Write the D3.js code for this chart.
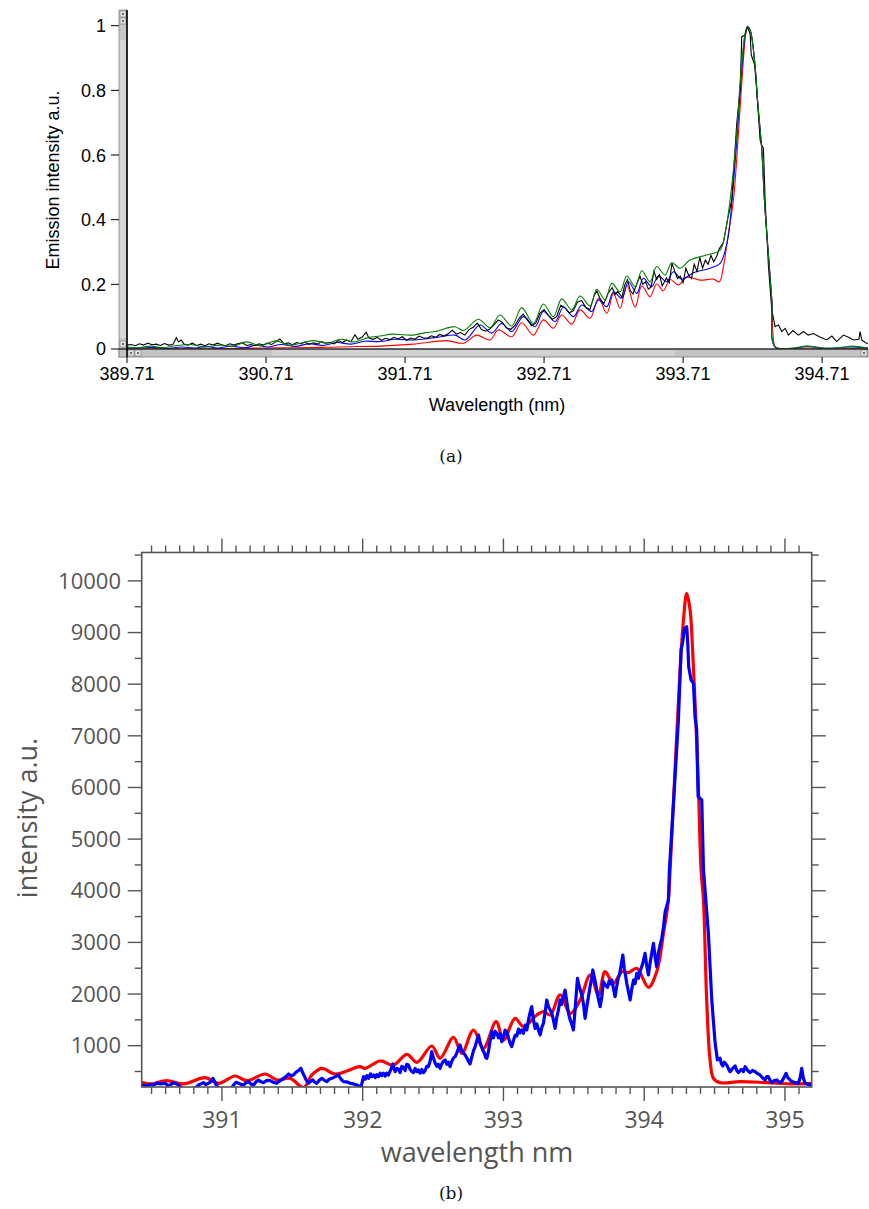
<!DOCTYPE html>
<html><head><meta charset="utf-8">
<script src="https://cdn.jsdelivr.net/npm/d3@7"></script>
<style>html,body{margin:0;padding:0;background:#fff;} svg{display:block;}</style>
</head><body>
<svg id="c" width="869" height="1209"></svg>
<script>
// ---------------- DATA: panel (a) ----------------
const topXTicks = [389.71, 390.71, 391.71, 392.71, 393.71, 394.71];
const topXLabels = ["389.71", "390.71", "391.71", "392.71", "393.71", "394.71"];
const topYTicks = [0, 0.2, 0.4, 0.6, 0.8, 1];
const topYLabels = ["0", "0.2", "0.4", "0.6", "0.8", "1"];

const topRed = [[389.71,0.001],[390.0,0.001],[390.3,0.001],[390.5,0.002],[390.7,0.003],[390.9,0.004],[391.1,0.005],[391.3,0.007],[391.53,0.009],[391.77,0.015],[392.01,0.026],[392.13,0.018],[392.225,0.043],[392.321,0.028],[392.381,0.059],[392.477,0.038],[392.549,0.081],[392.633,0.043],[392.705,0.090],[392.777,0.064],[392.837,0.105],[392.909,0.077],[392.969,0.121],[393.041,0.095],[393.101,0.157],[393.161,0.110],[393.209,0.172],[393.257,0.126],[393.305,0.198],[393.365,0.129],[393.413,0.195],[393.472,0.162],[393.520,0.201],[393.568,0.180],[393.616,0.215],[393.676,0.198],[393.736,0.222],[393.832,0.213],[393.928,0.216],[393.971,0.208],[394.000,0.255],[394.036,0.358],[394.072,0.461],[394.108,0.667],[394.132,0.822],[394.161,0.976],[394.173,0.997],[394.192,0.987],[394.228,0.873],[394.245,0.770],[394.276,0.616],[394.295,0.461],[394.312,0.358],[394.348,0.152],[394.372,0.007],[394.40,0.002],[394.6,0.003],[394.8,0.001],[395.04,0.002]];

const topBlue = [[389.71,0.004],[389.80,0.003],[389.90,0.005],[390.00,0.002],[390.10,0.006],[390.20,0.003],[390.28,0.008],[390.36,0.003],[390.46,0.009],[390.56,0.004],[390.64,0.012],[390.72,0.006],[390.82,0.014],[390.92,0.008],[391.02,0.016],[391.12,0.011],[391.22,0.020],[391.32,0.015],[391.42,0.024],[391.53,0.023],[391.64,0.030],[391.77,0.028],[391.938,0.036],[392.070,0.043],[392.142,0.028],[392.249,0.074],[392.333,0.049],[392.405,0.079],[392.477,0.054],[392.561,0.100],[392.645,0.069],[392.705,0.116],[392.789,0.085],[392.849,0.129],[392.921,0.100],[392.981,0.136],[393.053,0.116],[393.101,0.152],[393.161,0.131],[393.209,0.177],[393.269,0.157],[393.317,0.208],[393.377,0.172],[393.424,0.219],[393.484,0.193],[393.532,0.226],[393.592,0.208],[393.640,0.239],[393.700,0.216],[393.784,0.236],[393.904,0.250],[393.976,0.265],[394.03,0.337],[394.062,0.461],[394.10,0.667],[394.125,0.822],[394.158,0.976],[394.173,0.997],[394.192,0.987],[394.228,0.873],[394.245,0.770],[394.276,0.616],[394.295,0.461],[394.312,0.358],[394.348,0.152],[394.372,0.005],[394.50,0.001],[394.60,0.008],[394.75,0.002],[394.90,0.006],[395.04,0.003]];

const topGreen = [[389.71,0.006],[389.80,0.004],[389.88,0.009],[389.96,0.004],[390.06,0.010],[390.17,0.014],[390.27,0.006],[390.38,0.012],[390.47,0.008],[390.57,0.022],[390.67,0.010],[390.78,0.025],[390.88,0.012],[390.98,0.020],[391.05,0.026],[391.15,0.018],[391.25,0.030],[391.34,0.022],[391.45,0.036],[391.53,0.040],[391.62,0.046],[391.70,0.044],[391.77,0.043],[391.85,0.050],[391.926,0.054],[392.070,0.069],[392.130,0.057],[392.237,0.092],[392.321,0.066],[392.393,0.105],[392.477,0.071],[392.549,0.128],[392.633,0.079],[392.705,0.139],[392.777,0.100],[392.837,0.155],[392.909,0.121],[392.969,0.164],[393.041,0.133],[393.089,0.185],[393.149,0.152],[393.197,0.203],[393.257,0.177],[393.305,0.226],[393.365,0.193],[393.413,0.242],[393.472,0.208],[393.520,0.255],[393.580,0.229],[393.628,0.267],[393.688,0.250],[393.760,0.275],[393.880,0.291],[393.976,0.306],[394.012,0.358],[394.048,0.461],[394.096,0.667],[394.120,0.822],[394.156,0.976],[394.173,0.997],[394.192,0.987],[394.228,0.873],[394.245,0.770],[394.276,0.616],[394.295,0.461],[394.312,0.358],[394.348,0.152],[394.372,0.007],[394.48,0.002],[394.60,0.009],[394.72,0.002],[394.887,0.007],[394.935,0.009],[395.04,0.002]];

const topBlack = [[389.71,0.012],[389.74,0.014],[389.77,0.010],[389.80,0.016],[389.83,0.012],[389.86,0.018],[389.89,0.013],[389.92,0.015],[389.95,0.011],[389.98,0.017],[390.01,0.012],[390.04,0.014],[390.065,0.035],[390.08,0.022],[390.10,0.028],[390.12,0.015],[390.15,0.012],[390.18,0.018],[390.21,0.011],[390.24,0.015],[390.27,0.010],[390.30,0.016],[390.33,0.012],[390.36,0.018],[390.39,0.013],[390.42,0.010],[390.45,0.016],[390.48,0.012],[390.51,0.017],[390.54,0.019],[390.57,0.011],[390.60,0.014],[390.63,0.010],[390.66,0.016],[390.69,0.012],[390.72,0.018],[390.75,0.014],[390.78,0.022],[390.81,0.031],[390.84,0.016],[390.87,0.019],[390.90,0.013],[390.93,0.020],[390.96,0.016],[390.99,0.022],[391.02,0.014],[391.05,0.019],[391.08,0.015],[391.11,0.023],[391.14,0.018],[391.17,0.021],[391.20,0.016],[391.23,0.026],[391.26,0.020],[391.29,0.028],[391.32,0.022],[391.35,0.044],[391.37,0.030],[391.40,0.036],[391.43,0.052],[391.45,0.034],[391.48,0.030],[391.51,0.036],[391.54,0.027],[391.57,0.033],[391.60,0.029],[391.63,0.036],[391.66,0.031],[391.69,0.038],[391.72,0.027],[391.75,0.034],[391.78,0.030],[391.81,0.040],[391.84,0.035],[391.87,0.033],[391.90,0.041],[391.93,0.036],[391.96,0.045],[391.99,0.040],[392.02,0.047],[392.05,0.058],[392.08,0.046],[392.11,0.051],[392.14,0.043],[392.17,0.060],[392.20,0.067],[392.23,0.080],[392.26,0.060],[392.29,0.055],[392.32,0.062],[392.35,0.075],[392.38,0.090],[392.41,0.082],[392.44,0.065],[392.47,0.061],[392.50,0.072],[392.53,0.095],[392.56,0.108],[392.59,0.090],[392.62,0.072],[392.65,0.080],[392.68,0.110],[392.71,0.122],[392.74,0.105],[392.77,0.092],[392.80,0.100],[392.83,0.135],[392.86,0.128],[392.89,0.112],[392.92,0.118],[392.95,0.145],[392.98,0.150],[393.01,0.128],[393.04,0.122],[393.07,0.165],[393.09,0.180],[393.11,0.158],[393.14,0.140],[393.17,0.172],[393.20,0.190],[393.22,0.168],[393.24,0.178],[393.27,0.160],[393.29,0.198],[393.31,0.215],[393.33,0.180],[393.35,0.170],[393.38,0.205],[393.40,0.225],[393.42,0.200],[393.44,0.208],[393.46,0.185],[393.48,0.192],[393.50,0.240],[393.52,0.215],[393.54,0.230],[393.56,0.195],[393.59,0.220],[393.61,0.205],[393.63,0.265],[393.65,0.240],[393.67,0.218],[393.69,0.225],[393.71,0.205],[393.73,0.250],[393.75,0.228],[393.77,0.218],[393.79,0.262],[393.81,0.240],[393.83,0.283],[393.85,0.250],[393.87,0.275],[393.89,0.262],[393.91,0.290],[393.93,0.270],[393.95,0.285],[393.97,0.310],[394.00,0.330],[394.03,0.400],[394.06,0.461],[394.096,0.698],[394.12,0.800],[394.132,0.966],[394.156,0.971],[394.173,0.997],[394.192,0.975],[394.20,0.910],[394.224,0.880],[394.24,0.800],[394.264,0.646],[394.276,0.631],[394.288,0.620],[394.30,0.461],[394.312,0.358],[394.324,0.255],[394.348,0.121],[394.372,0.069],[394.396,0.074],[394.42,0.054],[394.444,0.064],[394.468,0.043],[394.50,0.057],[394.54,0.043],[394.576,0.054],[394.61,0.043],[394.648,0.048],[394.69,0.038],[394.743,0.028],[394.78,0.040],[394.815,0.023],[394.863,0.043],[394.90,0.036],[394.935,0.028],[394.975,0.030],[394.983,0.054],[394.995,0.028],[395.02,0.020],[395.04,0.016]];

// ---------------- DATA: panel (b) ----------------
const botXMajor = [391, 392, 393, 394, 395];
const botXLabels = ["391", "392", "393", "394", "395"];
const botYMajor = [1000, 2000, 3000, 4000, 5000, 6000, 7000, 8000, 9000, 10000];
const botYLabels = ["1000", "2000", "3000", "4000", "5000", "6000", "7000", "8000", "9000", "10000"];

const botRed = [[390.432,291],[390.49,259],[390.609,323],[390.727,259],[390.881,381],[390.976,272],[391.094,413],[391.177,323],[391.307,452],[391.390,336],[391.485,368],[391.580,190],[391.639,433],[391.710,562],[391.805,452],[391.98,594],[392.018,562],[392.124,704],[392.219,626],[392.314,833],[392.385,678],[392.491,994],[392.550,756],[392.645,1162],[392.704,852],[392.787,1304],[392.858,949],[392.948,1465],[393.000,1110],[393.083,1530],[393.142,1369],[393.237,1595],[393.284,1659],[393.332,1595],[393.403,1982],[393.474,1627],[393.545,1885],[393.616,2369],[393.675,1982],[393.722,2433],[393.781,2208],[393.841,2433],[393.888,2414],[393.947,2498],[394.030,2130],[394.089,2433],[394.137,3175],[394.172,3821],[394.184,4402],[394.219,6338],[394.255,8274],[394.279,9242],[394.302,9758],[394.326,9435],[394.345,8596],[394.364,7499],[394.385,6015],[394.404,4402],[394.421,3821],[394.444,1885],[394.468,723],[394.492,368],[394.539,284],[394.681,304],[394.871,284],[395.060,259],[395.19,272]];

const botBlue = [[390.432,239],[390.467,220],[390.490,250],[390.514,239],[390.540,275],[390.562,259],[390.597,272],[390.615,230],[390.633,239],[390.655,280],[390.680,259],[390.704,207],[390.739,140],[390.798,140],[390.834,239],[390.850,260],[390.869,284],[390.885,250],[390.905,272],[390.920,300],[390.936,368],[390.959,239],[390.988,140],[391.059,140],[391.083,239],[391.100,290],[391.118,272],[391.135,250],[391.154,239],[391.170,280],[391.189,304],[391.205,260],[391.225,239],[391.242,300],[391.260,336],[391.278,300],[391.296,284],[391.320,330],[391.343,323],[391.365,290],[391.390,272],[391.412,320],[391.438,368],[391.455,400],[391.473,452],[391.490,420],[391.509,433],[391.520,470],[391.532,497],[391.548,530],[391.561,562],[391.573,480],[391.585,413],[391.600,330],[391.615,272],[391.630,310],[391.646,336],[391.660,290],[391.674,272],[391.692,330],[391.710,368],[391.728,330],[391.745,304],[391.762,350],[391.781,368],[391.805,400],[391.828,433],[391.846,350],[391.864,304],[391.888,300],[391.911,272],[391.935,260],[391.959,239],[391.987,194],[391.997,300],[392.006,400],[392.018,350],[392.030,420],[392.042,368],[392.055,455],[392.066,400],[392.077,433],[392.090,380],[392.100,440],[392.112,400],[392.125,470],[392.136,420],[392.148,465],[392.160,410],[392.171,470],[392.183,433],[392.197,520],[392.206,580],[392.214,646],[392.222,560],[392.231,497],[392.242,560],[392.254,543],[392.266,480],[392.278,600],[392.290,581],[392.302,520],[392.313,640],[392.325,626],[392.337,540],[392.349,500],[392.361,478],[392.373,560],[392.385,500],[392.396,530],[392.408,470],[392.420,540],[392.432,478],[392.444,520],[392.455,600],[392.467,594],[392.479,700],[392.491,885],[392.503,760],[392.515,659],[392.527,600],[392.538,640],[392.550,562],[392.562,650],[392.574,700],[392.586,723],[392.598,640],[392.610,680],[392.621,594],[392.633,700],[392.645,760],[392.657,788],[392.669,860],[392.681,950],[392.692,1014],[392.704,900],[392.716,860],[392.728,820],[392.740,760],[392.751,700],[392.763,646],[392.775,780],[392.787,900],[392.799,981],[392.811,1100],[392.823,1207],[392.835,1050],[392.847,960],[392.853,917],[392.865,850],[392.876,760],[392.882,755],[392.894,900],[392.906,1100],[392.917,1272],[392.929,1150],[392.941,1280],[392.953,1240],[392.965,1150],[392.976,1230],[392.988,1078],[393.000,1180],[393.012,1300],[393.024,1272],[393.036,1150],[393.047,1050],[393.059,981],[393.071,1100],[393.083,1200],[393.095,1188],[393.107,1320],[393.118,1250],[393.130,1304],[393.142,1240],[393.154,1400],[393.166,1304],[393.178,1500],[393.190,1650],[393.201,1756],[393.213,1500],[393.225,1336],[393.237,1420],[393.249,1300],[393.261,1207],[393.272,1350],[393.284,1433],[393.296,1650],[393.308,1885],[393.320,1750],[393.331,1700],[393.343,1627],[393.355,1500],[393.367,1336],[393.379,1550],[393.391,1700],[393.403,1885],[393.414,1800],[393.426,1950],[393.438,2078],[393.450,1850],[393.462,1627],[393.474,1500],[393.485,1420],[393.497,1304],[393.509,1700],[393.520,2100],[393.526,2304],[393.538,2150],[393.549,2050],[393.557,1982],[393.569,1800],[393.580,1530],[393.592,1750],[393.604,1950],[393.616,2150],[393.626,2300],[393.635,2466],[393.647,2300],[393.655,2200],[393.663,2078],[393.675,1900],[393.687,1756],[393.699,1950],[393.710,2240],[393.722,2180],[393.739,2130],[393.750,2250],[393.760,2200],[393.770,2272],[393.782,2100],[393.793,1950],[393.805,2150],[393.815,2300],[393.824,2369],[393.836,2550],[393.848,2756],[393.858,2500],[393.868,2350],[393.876,2208],[393.888,2050],[393.900,1885],[393.912,2100],[393.924,2272],[393.935,2200],[393.947,2400],[393.959,2304],[393.971,2450],[393.983,2530],[393.995,2650],[394.006,2788],[394.018,2550],[394.030,2369],[394.042,2600],[394.054,2800],[394.066,2982],[394.078,2700],[394.089,2530],[394.101,2800],[394.113,2950],[394.125,3079],[394.137,3300],[394.149,3595],[394.160,3700],[394.172,3821],[394.179,4402],[394.208,5692],[394.243,7306],[394.262,8661],[394.274,8822],[394.286,9080],[394.302,9113],[394.309,8822],[394.316,8338],[394.333,8080],[394.350,8016],[394.361,7370],[394.373,7112],[394.383,5822],[394.409,5757],[394.421,4402],[394.456,3175],[394.480,1885],[394.504,1046],[394.520,723],[394.539,756],[394.548,650],[394.558,607],[394.570,680],[394.586,627],[394.598,560],[394.610,497],[394.628,560],[394.646,607],[394.658,520],[394.669,478],[394.690,540],[394.705,500],[394.717,594],[394.735,520],[394.752,478],[394.770,520],[394.788,497],[394.805,460],[394.823,433],[394.840,380],[394.859,336],[394.870,400],[394.882,401],[394.894,330],[394.906,284],[394.920,320],[394.942,336],[394.960,290],[394.977,304],[394.992,380],[395.008,465],[395.020,380],[395.036,336],[395.055,300],[395.072,284],[395.095,271],[395.108,380],[395.119,562],[395.130,380],[395.143,271],[395.165,250],[395.190,240]];

// ---------------- DRAW ----------------
const svg = d3.select('#c');
svg.append('rect').attr('width', 869).attr('height', 1209).attr('fill', '#fff');
const defs = svg.append('defs');

// ===== panel (a) =====
const xa = d3.scaleLinear().domain([389.71, 395.04]).range([127, 868]);
const ya = d3.scaleLinear().domain([0, 1]).range([349, 25.7]);
defs.append('clipPath').attr('id', 'clipA').append('rect')
  .attr('x', 127).attr('y', 8).attr('width', 741).attr('height', 341);

const gA = svg.append('g').attr('clip-path', 'url(#clipA)');
const lineSmoothA = d3.line().x(d => xa(d[0])).y(d => ya(d[1])).curve(d3.curveCatmullRom.alpha(0.5));
const lineA = d3.line().x(d => xa(d[0])).y(d => ya(d[1]));
gA.append('path').datum(topRed).attr('d', lineSmoothA).attr('fill', 'none').attr('stroke', '#ff0000').attr('stroke-width', 1.1);
gA.append('path').datum(topBlue).attr('d', lineSmoothA).attr('fill', 'none').attr('stroke', '#0000ff').attr('stroke-width', 1.1);
gA.append('path').datum(topBlack).attr('d', lineA).attr('fill', 'none').attr('stroke', '#000').attr('stroke-width', 1.1);
gA.append('path').datum(topGreen).attr('d', lineSmoothA).attr('fill', 'none').attr('stroke', '#008000').attr('stroke-width', 1.1);

// scrollbars (Igor-style window)
const sb = svg.append('g');
sb.append('rect').attr('x', 119).attr('y', 10).attr('width', 8).attr('height', 347).attr('fill', '#c6c6c6').attr('stroke', '#8a8a8a').attr('stroke-width', 0.8);
sb.append('rect').attr('x', 120).attr('y', 40).attr('width', 6).attr('height', 298).attr('fill', '#d6d6d6');
[[11, 6], [18, 6], [341, 6]].forEach(b => {
  sb.append('rect').attr('x', 120).attr('y', b[0]).attr('width', 6).attr('height', b[1]).attr('fill', '#e4e4e4').attr('stroke', '#777').attr('stroke-width', 0.6);
  sb.append('circle').attr('cx', 123).attr('cy', b[0] + 3).attr('r', 0.9).attr('fill', '#333');
});
sb.append('rect').attr('x', 119).attr('y', 349).attr('width', 749).attr('height', 8).attr('fill', '#c3c3c3').attr('stroke', '#7a7a7a').attr('stroke-width', 0.8);
sb.append('rect').attr('x', 272).attr('y', 350).attr('width', 403).attr('height', 6).attr('fill', '#d2d2d2');
[[128, 6], [135, 6], [861, 6]].forEach(b => {
  sb.append('rect').attr('x', b[0]).attr('y', 350).attr('width', b[1]).attr('height', 6).attr('fill', '#e4e4e4').attr('stroke', '#777').attr('stroke-width', 0.6);
  sb.append('circle').attr('cx', b[0] + 3).attr('cy', 353).attr('r', 0.9).attr('fill', '#333');
});
sb.append('line').attr('x1', 119).attr('x2', 868).attr('y1', 349).attr('y2', 349).attr('stroke', '#000').attr('stroke-width', 1.2);
sb.append('line').attr('x1', 127).attr('x2', 127).attr('y1', 10).attr('y2', 357).attr('stroke', '#000').attr('stroke-width', 1.6);

const fontA = '"Liberation Sans", Arial, sans-serif';
const axA = svg.append('g').attr('font-family', fontA).attr('font-size', 18).attr('fill', '#000');
topYTicks.forEach((t, i) => {
  axA.append('line').attr('x1', 111).attr('x2', 119).attr('y1', ya(t)).attr('y2', ya(t)).attr('stroke', '#000').attr('stroke-width', 1);
  axA.append('text').attr('x', 106).attr('y', ya(t)).attr('dy', '0.36em').attr('text-anchor', 'end').text(topYLabels[i]);
});
topXTicks.forEach((t, i) => {
  axA.append('line').attr('x1', xa(t)).attr('x2', xa(t)).attr('y1', 357).attr('y2', 363).attr('stroke', '#000').attr('stroke-width', 1);
  axA.append('text').attr('x', xa(t)).attr('y', 380).attr('text-anchor', 'middle').text(topXLabels[i]);
});
axA.append('text').attr('x', 497).attr('y', 411).attr('text-anchor', 'middle').text('Wavelength (nm)');
axA.append('text').attr('transform', 'translate(59,180) rotate(-90)').attr('text-anchor', 'middle').text('Emission intensity a.u.');

svg.append('text').attr('x', 451).attr('y', 462).attr('text-anchor', 'middle')
  .attr('font-family', '"DejaVu Serif", "Liberation Serif", serif').attr('font-size', 17).attr('fill', '#111').text('(a)');

// ===== panel (b) =====
const L = 141.7, R = 811.7, T = 552.5, B = 1087;
const xb = d3.scaleLinear().domain([390.43, 395.19]).range([L, R]);
const yb = d3.scaleLinear().domain([200, 10550]).range([B, T]);
defs.append('clipPath').attr('id', 'clipB').append('rect')
  .attr('x', L).attr('y', T).attr('width', R - L).attr('height', B - T);

const gB = svg.append('g').attr('clip-path', 'url(#clipB)');
const lineSmoothB = d3.line().x(d => xb(d[0])).y(d => yb(d[1])).curve(d3.curveCatmullRom.alpha(0.5));
const lineB = d3.line().x(d => xb(d[0])).y(d => yb(d[1]));
gB.append('path').datum(botRed).attr('d', lineSmoothB).attr('fill', 'none').attr('stroke', '#ff0000').attr('stroke-width', 3.2).attr('stroke-linejoin', 'round');
gB.append('path').datum(botBlue).attr('d', lineB).attr('fill', 'none').attr('stroke', '#0000ff').attr('stroke-width', 3.2).attr('stroke-linejoin', 'round');

const axCol = '#555';
const axB = svg.append('g').attr('stroke', axCol).attr('stroke-width', 1.4);
const xMinor = d3.range(3905, 3952).map(d => d / 10);
const yMinor = d3.range(500, 10501, 500);
xMinor.forEach(v => {
  const major = Math.abs(v - Math.round(v)) < 1e-6;
  const len = major ? 14 : 7;
  axB.append('line').attr('x1', xb(v)).attr('x2', xb(v)).attr('y1', B).attr('y2', B + len);
  axB.append('line').attr('x1', xb(v)).attr('x2', xb(v)).attr('y1', T).attr('y2', T - len);
});
yMinor.forEach(v => {
  const major = v % 1000 === 0;
  const len = major ? 14 : 7;
  axB.append('line').attr('x1', L).attr('x2', L - len).attr('y1', yb(v)).attr('y2', yb(v));
  axB.append('line').attr('x1', R).attr('x2', R + len).attr('y1', yb(v)).attr('y2', yb(v));
});
axB.append('rect').attr('x', L).attr('y', T).attr('width', R - L).attr('height', B - T).attr('fill', 'none').attr('stroke-width', 1.6);

const fontB = '"Open Sans", "Noto Sans", sans-serif';
const tb = svg.append('g').attr('font-family', fontB).attr('fill', axCol);
botYMajor.forEach((v, i) => {
  tb.append('text').attr('x', 121).attr('y', yb(v)).attr('dy', '0.35em').attr('text-anchor', 'end').attr('font-size', 22).text(botYLabels[i]);
});
botXMajor.forEach((v, i) => {
  tb.append('text').attr('x', xb(v)).attr('y', 1128).attr('text-anchor', 'middle').attr('font-size', 23).text(botXLabels[i]);
});
tb.append('text').attr('x', 477).attr('y', 1162).attr('text-anchor', 'middle').attr('font-size', 27).text('wavelength nm');
tb.append('text').attr('transform', 'translate(37,818) rotate(-90)').attr('text-anchor', 'middle').attr('font-size', 27).text('intensity a.u.');

svg.append('text').attr('x', 451).attr('y', 1199).attr('text-anchor', 'middle')
  .attr('font-family', '"DejaVu Serif", "Liberation Serif", serif').attr('font-size', 17).attr('fill', '#111').text('(b)');
</script>
</body></html>
